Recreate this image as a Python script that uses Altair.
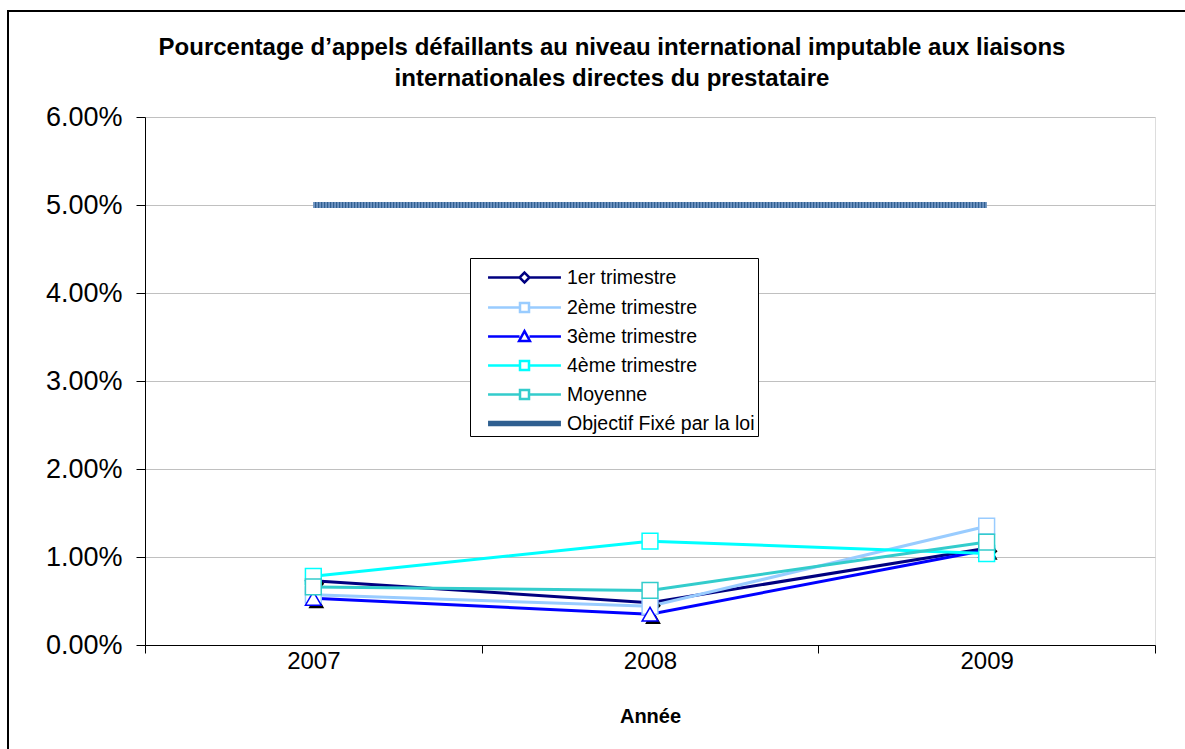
import altair as alt
import pandas as pd

years = [2007, 2008, 2009]
series_names = ["1er trimestre", "2ème trimestre", "3ème trimestre",
                "4ème trimestre", "Moyenne", "Objectif Fixé par la loi"]
q1 = [0.0073, 0.0048, 0.0110]
q2 = [0.0057, 0.0044, 0.0135]
q3 = [0.0053, 0.0035, 0.0108]
q4 = [0.0078, 0.0118, 0.0104]
moyenne = [0.0066, 0.0062, 0.0117]
objectif = [0.05, 0.05, 0.05]
colors = ["#000080", "#99ccff", "#0000ff", "#00ffff", "#33cccc", "#2f5f90"]
markers = ["diamond", "square", "triangle-up", "square", "square", "none"]
y_ticks = [0.0, 0.01, 0.02, 0.03, 0.04, 0.05, 0.06]
x_bounds = [2006.5, 2007.5, 2008.5, 2009.5]

title_lines = ["Pourcentage d\u2019appels défaillants au niveau international imputable aux liaisons",
               "internationales directes du prestataire"]

legend_paths = [
    "M-2.43,0H-0.33M0.33,0H2.43M0,-0.33L0.33,0L0,0.33L-0.33,0Z",
    "M-2.43,0H-0.3M0.3,0H2.43M-0.3,-0.3H0.3V0.3H-0.3Z",
    "M-2.43,0H-0.33M0.33,0H2.43M0,-0.36L0.36,0.3H-0.36Z",
    "M-2.43,0H-0.3M0.3,0H2.43M-0.3,-0.3H0.3V0.3H-0.3Z",
    "M-2.43,0H-0.3M0.3,0H2.43M-0.3,-0.3H0.3V0.3H-0.3Z",
    "M-2.43,-0.1H2.43M-2.43,0H2.43M-2.43,0.1H2.43",
]

rows = []
for name, vals, mk in zip(series_names, [q1, q2, q3, q4, moyenne, objectif], markers):
    for yr, v in zip(years, vals):
        rows.append({"year": yr, "value": v, "series": name, "marker": mk})
df = pd.DataFrame(rows)

FONT = "Liberation Sans"
xscale = alt.Scale(domain=[x_bounds[0], x_bounds[-1]], nice=False, zero=False)
yscale = alt.Scale(domain=[0, 0.06], nice=False)
stroke_scale = alt.Scale(domain=series_names, range=colors)

legend_def = alt.Legend(title=None, orient="none", legendX=325, legendY=141,
                        padding=3, symbolSize=900, symbolStrokeWidth=2.5,
                        symbolOffset=35, labelOffset=26, labelFont=FONT,
                        labelFontSize=19.5, labelColor="black", rowPadding=3,
                        strokeColor="black", fillColor="white", symbolOpacity=1,
                        labelLimit=400, symbolFillColor="white")

y_enc = alt.Y("value:Q", scale=yscale,
              axis=alt.Axis(values=y_ticks, format=".2%", title=None, labelFontSize=27,
                            labelFont=FONT, labelColor="black", tickSize=9, tickColor="black",
                            domainColor="black", labelPadding=14, gridColor="#c0c0c0",
                            gridWidth=1, tickWidth=1))
x_none = alt.X("year:Q", scale=xscale, axis=None)
x_ticks = alt.X("year:Q", scale=xscale,
                axis=alt.Axis(values=x_bounds, labels=False, tickSize=8, grid=False,
                              title=None, orient="bottom", tickColor="black",
                              domainColor="black"))
x_labels = alt.X("year:Q", scale=xscale,
                 axis=alt.Axis(values=years, format="d", ticks=False, domain=False, grid=False,
                               labelFontSize=24, labelFont=FONT, labelColor="black",
                               labelPadding=4, title="Année", titleFont=FONT,
                               titleFontSize=20, titleFontWeight="bold", titleColor="black",
                               titlePadding=33, orient="bottom"))

base = alt.Chart(df)
quarters = base.transform_filter(alt.datum.series != series_names[5])
obj = base.transform_filter(alt.datum.series == series_names[5])

frame = alt.Chart(alt.Data(values=[{}])).mark_rect(
    fillOpacity=0, stroke="black", strokeWidth=2
).encode(x=alt.value(-137), x2=alt.value(1100), y=alt.value(-106), y2=alt.value(700))

stroke_enc = alt.Stroke("series:N", scale=stroke_scale, legend=legend_def)

obj_base = obj.mark_line(strokeWidth=6).encode(x=x_ticks, y=y_enc, stroke=stroke_enc)
obj_hatch = obj.mark_line(strokeWidth=6, color="#7d9fcb", strokeDash=[1.5, 1.5]).encode(
    x=x_none, y=y_enc)

lines = quarters.mark_line(strokeWidth=3).encode(
    x=x_labels, y=y_enc, stroke=stroke_enc, detail="series:N")

shadows = quarters.transform_filter(
    (alt.datum.series == series_names[0]) | (alt.datum.series == series_names[2])
)
shadow_layers = []
point_layers = []
for mk in ["diamond", "triangle-up"]:
    shadow_layers.append(
        shadows.transform_filter(alt.datum.marker == mk).mark_point(
            shape=mk, filled=True, color="black", size=250, opacity=1, xOffset=3, yOffset=3
        ).encode(x=x_none, y=y_enc))
for name, mk in zip(series_names[:5], markers[:5]):
    point_layers.append(
        quarters.transform_filter(alt.datum.series == name).mark_point(
            shape=mk, filled=True, fill="white", size=250, strokeWidth=1.5, opacity=1,
            stroke=colors[series_names.index(name)]
        ).encode(x=x_none, y=y_enc))

legend_layer = base.transform_filter("false").mark_point(
    filled=False, strokeWidth=2.5, opacity=1).encode(
    x=x_none, y=y_enc, stroke=stroke_enc,
    shape=alt.Shape("series:N", scale=alt.Scale(domain=series_names, range=legend_paths),
                    legend=legend_def))

chart = alt.layer(frame, obj_base, obj_hatch, lines, *shadow_layers, *point_layers,
                  legend_layer).resolve_axis(
    x="independent"
).properties(
    width=1010, height=528,
    autosize=alt.AutoSizeParams(type="none"),
    padding={"left": 145, "top": 117, "right": 30, "bottom": 104},
    title=alt.TitleParams(text=title_lines, font=FONT, fontSize=24, fontWeight="bold",
                          color="black", anchor="middle", dx=-38, offset=-81, lineHeight=31),
).configure_view(stroke="black", strokeWidth=1.5).configure(background="white")

chart.save("out.html", embed_options={"renderer": "svg", "actions": False})
